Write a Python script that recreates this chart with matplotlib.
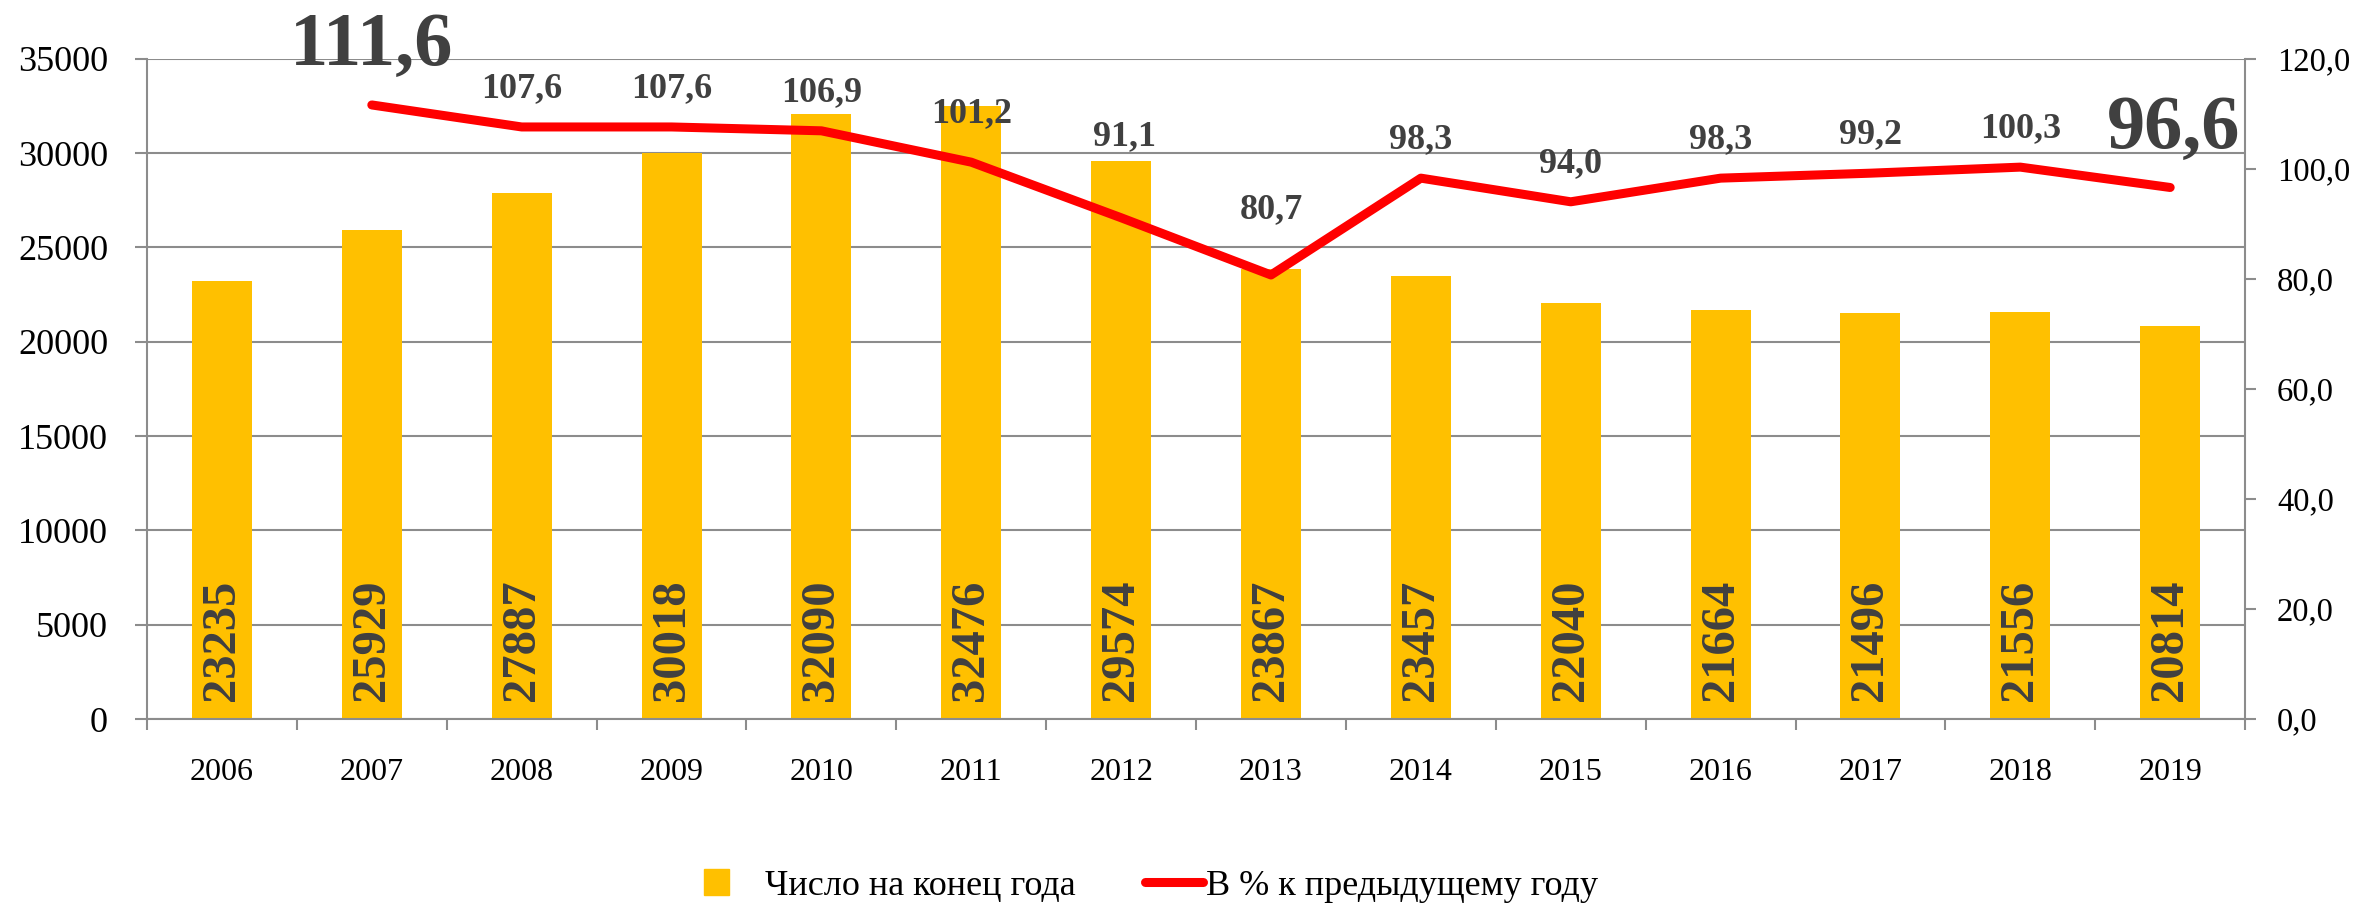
import numpy as np
import matplotlib.pyplot as plt
from matplotlib.patches import Patch, Rectangle
from matplotlib.lines import Line2D
from matplotlib.legend_handler import HandlerPatch

years = ["2006", "2007", "2008", "2009", "2010", "2011", "2012",
         "2013", "2014", "2015", "2016", "2017", "2018", "2019"]
count_end_year = [23235, 25929, 27887, 30018, 32090, 32476, 29574,
                  23867, 23457, 22040, 21664, 21496, 21556, 20814]
pct_prev_year = [np.nan, 111.6, 107.6, 107.6, 106.9, 101.2, 91.1,
                 80.7, 98.3, 94.0, 98.3, 99.2, 100.3, 96.6]

# label placement (pixels from the point to the text baseline), style only
big_labels = {"2007", "2019"}
label_shift = {"2011": (0, 40), "2012": (3, 73), "2013": (0, 57),
               "2019": (3, 40), "2007": (0, 40)}

BAR = "#FFC000"
LINE = "#FF0000"
TXT = "#404040"
GRID = "#8C8C8C"

plt.rcParams["font.family"] = ["Liberation Serif", "DejaVu Serif"]

fig = plt.figure(figsize=(23.54, 9.05), dpi=100)
ax = fig.add_axes([0.06245, 0.2055, 0.8913, 0.7296])
ax2 = ax.twinx()

x = np.arange(len(years))
ax.bar(x, count_end_year, width=0.4, color=BAR, zorder=2)
for xi, v in zip(x, count_end_year):
    ax.annotate(str(v), (xi, 0), xytext=(0, 13), textcoords="offset points",
                rotation=90, ha="center", va="bottom", fontsize=35,
                fontweight="bold", color=TXT, zorder=3)

ax.set_ylim(0, 35000)
ax.set_yticks(range(0, 35001, 5000))
ax.set_xlim(-0.5, len(years) - 0.5)
ax.set_xticks(x)
ax.set_xticklabels(years)
ax.set_xticks(np.arange(-0.5, len(years), 1), minor=True)
ax.tick_params(axis="x", which="major", length=0, pad=28, labelsize=23)
ax.tick_params(axis="x", which="minor", length=8, width=1.5, color=GRID)
ax.tick_params(axis="y", length=9, width=1.5, color=GRID, pad=19, labelsize=26)
ax.yaxis.grid(True, color=GRID, linewidth=1.5)
ax.set_axisbelow(True)
for s in ["top", "right"]:
    ax.spines[s].set_visible(False)
for s in ["left", "bottom"]:
    ax.spines[s].set_color(GRID)
    ax.spines[s].set_linewidth(1.5)

ax2.plot(x, pct_prev_year, color=LINE, linewidth=6.5, solid_capstyle="round",
         solid_joinstyle="round", zorder=4)
ax2.set_ylim(0, 120)
ax2.set_yticks(range(0, 121, 20))
ax2.set_yticklabels([f"{t},0" for t in range(0, 121, 20)])
ax2.tick_params(axis="y", length=8, width=1.5, color=GRID, pad=15, labelsize=23.5)
for s in ["top", "left", "bottom"]:
    ax2.spines[s].set_visible(False)
ax2.spines["right"].set_color(GRID)
ax2.spines["right"].set_linewidth(1.5)

for xi, yr, v in zip(x, years, pct_prev_year):
    if np.isnan(v):
        continue
    label = f"{v:.1f}".replace(".", ",")
    dx, dy = label_shift.get(yr, (0, 30))
    size = 55 if yr in big_labels else 26
    ax2.annotate(label, (xi, v), xytext=(dx, dy), textcoords="offset pixels",
                 ha="center", va="baseline", fontsize=size,
                 fontweight="bold", color=TXT)


def square_patch(legend, orig_handle, xdescent, ydescent, width, height, fontsize):
    return Rectangle((-xdescent, -ydescent), height, height)


handles = [Patch(color=BAR, label="Число на конец года"),
           Line2D([], [], color=LINE, linewidth=6.5, solid_capstyle="round",
                  label="В % к предыдущему году")]
fig.legend(handles=handles, loc="center", bbox_to_anchor=(0.489, 0.021),
           ncol=2, frameon=False, fontsize=26, handlelength=1.6,
           handletextpad=0.1, columnspacing=1.9,
           handler_map={Patch: HandlerPatch(patch_func=square_patch)})

fig.savefig("out.png", dpi=100)
